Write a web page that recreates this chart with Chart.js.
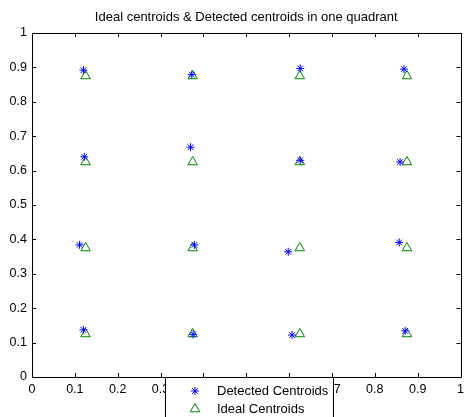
<!DOCTYPE html>
<html>
<head>
<meta charset="utf-8">
<script src="https://cdn.jsdelivr.net/npm/chart.js@4/dist/chart.umd.min.js"></script>
<style>
  html, body { margin: 0; padding: 0; background: #fff; }
  #wrap { width: 467px; height: 417px; }
</style>
</head>
<body>
<div id="wrap"><canvas id="chart"></canvas></div>
<script>
const titleText = 'Ideal centroids & Detected centroids in one quadrant';

// detected centroids
const detectedX = [0.120, 0.373, 0.626, 0.868,
                   0.122, 0.370, 0.626, 0.859,
                   0.111, 0.379, 0.598, 0.857,
                   0.120, 0.376, 0.607, 0.871];
const detectedY = [0.892, 0.879, 0.897, 0.895,
                   0.640, 0.668, 0.630, 0.625,
                   0.384, 0.384, 0.364, 0.391,
                   0.137, 0.124, 0.122, 0.134];

// ideal centroids: centres of a 4x4 grid
const idealX = [0.125, 0.375, 0.625, 0.875,
                0.125, 0.375, 0.625, 0.875,
                0.125, 0.375, 0.625, 0.875,
                0.125, 0.375, 0.625, 0.875];
const idealY = [0.875, 0.875, 0.875, 0.875,
                0.625, 0.625, 0.625, 0.625,
                0.375, 0.375, 0.375, 0.375,
                0.125, 0.125, 0.125, 0.125];

const legendLabels = ['Detected Centroids', 'Ideal Centroids'];

const FONT = '"Liberation Sans", Arial, sans-serif';

// box + inward ticks on all four sides, matlab style
const boxPlugin = {
    id: 'box',
    afterDraw(chart) {
        const ctx = chart.ctx;
        const a = chart.chartArea;
        const xs = chart.scales.x, ys = chart.scales.y;
        ctx.save();
        ctx.strokeStyle = '#000';
        ctx.lineWidth = 1;
        ctx.beginPath();
        ctx.rect(Math.round(a.left) + 0.5, Math.round(a.top) + 0.5,
                 Math.round(a.right - a.left), Math.round(a.bottom - a.top));
        xs.ticks.forEach(t => {
            const px = Math.round(xs.getPixelForValue(t.value)) + 0.5;
            ctx.moveTo(px, a.bottom); ctx.lineTo(px, a.bottom - 4);
            ctx.moveTo(px, a.top); ctx.lineTo(px, a.top + 4);
        });
        ys.ticks.forEach(t => {
            const py = Math.round(ys.getPixelForValue(t.value)) + 0.5;
            ctx.moveTo(a.left, py); ctx.lineTo(a.left + 4, py);
            ctx.moveTo(a.right, py); ctx.lineTo(a.right - 4, py);
        });
        ctx.stroke();

        // title
        ctx.fillStyle = '#000';
        ctx.font = '13px ' + FONT;
        ctx.textAlign = 'center';
        ctx.textBaseline = 'middle';
        ctx.fillText(titleText, (a.left + a.right) / 2, 17);

        // legend box sitting over the x axis
        const lx = 165, ly = 377, lw = 168, lh = 45;
        ctx.fillStyle = '#fff';
        ctx.fillRect(lx, ly, lw, lh);
        ctx.strokeStyle = '#000';
        ctx.beginPath();
        ctx.rect(lx + 0.5, ly + 0.5, lw, lh);
        ctx.stroke();
        chart.data.datasets.forEach((ds, i) => {
            const cy = 391 + i * 18;
            ctx.strokeStyle = ds.borderColor;
            ctx.fillStyle = ds.backgroundColor;
            ctx.lineWidth = 1;
            Chart.helpers.drawPoint(ctx, {
                pointStyle: ds.pointStyle,
                radius: ds.pointRadius,
                borderWidth: 1,
                rotation: 0
            }, 195, cy);
            ctx.fillStyle = '#000';
            ctx.font = '13px ' + FONT;
            ctx.textAlign = 'left';
            ctx.textBaseline = 'middle';
            ctx.fillText(ds.label, 217, cy);
        });
        ctx.restore();
    }
};

const toPoints = (xs, ys) => xs.map((x, i) => ({ x: x, y: ys[i] }));

new Chart(document.getElementById('chart'), {
    type: 'scatter',
    data: {
        datasets: [{
            label: legendLabels[0],
            data: toPoints(detectedX, detectedY),
            pointStyle: 'star',
            pointRadius: 4,
            pointHoverRadius: 4,
            borderWidth: 1,
            borderColor: 'rgb(0,0,255)',
            backgroundColor: 'rgb(0,0,255)'
        }, {
            label: legendLabels[1],
            data: toPoints(idealX, idealY),
            pointStyle: 'triangle',
            pointRadius: 5.5,
            pointHoverRadius: 5.5,
            borderWidth: 1,
            borderColor: 'rgb(0,128,0)',
            backgroundColor: 'rgba(0,0,0,0)'
        }]
    },
    options: {
        responsive: true,
        maintainAspectRatio: false,
        animation: false,
        events: [],
        layout: { padding: { left: 0, right: 2, top: 33, bottom: 0 } },
        plugins: {
            legend: { display: false },
            title: { display: false },
            tooltip: { enabled: false }
        },
        scales: {
            x: {
                type: 'linear',
                min: 0, max: 1,
                grid: { display: false, drawTicks: false },
                border: { display: false },
                ticks: {
                    stepSize: 0.1,
                    padding: 5,
                    color: '#000',
                    maxRotation: 0,
                    font: { family: FONT, size: 12.5 },
                    callback: v => String(+v.toFixed(1))
                },
                afterFit: s => {
                    s.height = 40;
                    s.paddingLeft = 0;
                    s.paddingRight = 0;
                }
            },
            y: {
                type: 'linear',
                min: 0, max: 1,
                grid: { display: false, drawTicks: false },
                border: { display: false },
                ticks: {
                    stepSize: 0.1,
                    padding: 5,
                    color: '#000',
                    font: { family: FONT, size: 12.5 },
                    callback: v => String(+v.toFixed(1))
                },
                afterFit: s => {
                    s.width = 32;
                    s.paddingTop = 0;
                    s.paddingBottom = 0;
                }
            }
        }
    },
    plugins: [boxPlugin]
});
</script>
</body>
</html>
